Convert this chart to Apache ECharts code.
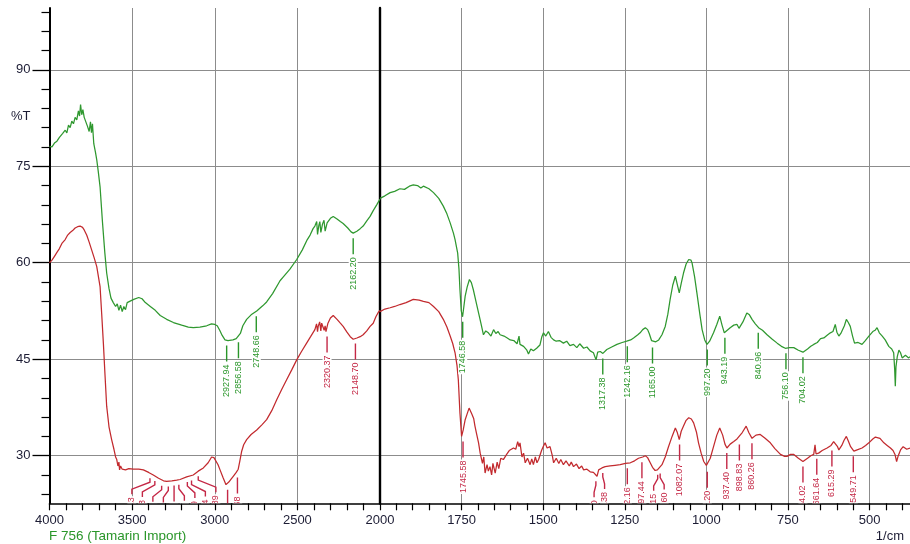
<!DOCTYPE html>
<html><head><meta charset="utf-8">
<script src="https://cdn.jsdelivr.net/npm/echarts@6/dist/echarts.min.js"></script>
<style>html,body{margin:0;padding:0;background:#fff}#c{width:910px;height:544px}</style>
</head><body><div id="c"></div>
<script>
// ---- tick labels ----
const xTicksLeft = [4000, 3500, 3000, 2500, 2000];
const xTicksRight = [1750, 1500, 1250, 1000, 750, 500];
const xMinorRight = [1950, 1900, 1850, 1800, 1700, 1650, 1600, 1550, 1450, 1400, 1350, 1300, 1200, 1150, 1100, 1050, 950, 900, 850, 800, 700, 650, 600, 550, 450, 400];
const yTicks = [30, 45, 60, 75, 90];
const yMinorTicks = [24, 27, 33, 36, 39, 42, 48, 51, 54, 57, 63, 66, 69, 72, 78, 81, 84, 87, 93, 96, 99];

// ---- spectra: [wavenumber 1/cm, %T] ----
const greenLeft = [[4000,78.1],[3985,78.0],[3970,78.6],[3955,78.9],[3940,79.5],[3930,79.2],[3920,80.1],[3905,80.6],[3895,80.2],[3885,81.4],[3875,81.0],[3865,82.0],[3855,81.6],[3845,82.6],[3835,82.2],[3825,83.6],[3818,82.8],[3812,84.6],[3805,83.0],[3798,83.8],[3790,82.6],[3780,82.4],[3770,81.2],[3760,80.4],[3752,81.9],[3746,80.2],[3740,81.6],[3732,78.5],[3722,77.2],[3714,76.0],[3705,74.2],[3694,71.8],[3680,66.5],[3665,61.5],[3654,58.4],[3640,56.0],[3628,54.5],[3614,53.8],[3600,53.2],[3590,53.6],[3580,52.6],[3570,53.4],[3560,52.4],[3550,53.2],[3540,52.7],[3530,53.8],[3515,54.0],[3490,54.3],[3460,54.6],[3440,54.4],[3420,53.8],[3390,53.2],[3360,52.6],[3330,51.8],[3291,51.2],[3250,50.7],[3200,50.3],[3160,50.0],[3130,49.9],[3090,50.0],[3049,50.2],[3020,50.5],[3000,50.4],[2985,50.2],[2970,49.5],[2955,48.7],[2938,48.0],[2920,47.9],[2890,48.0],[2870,48.2],[2858,48.4],[2845,49.0],[2830,50.2],[2807,51.2],[2780,51.9],[2746,52.5],[2710,53.3],[2686,53.9],[2650,55.2],[2605,57.2],[2585,57.8],[2545,59.0],[2504,60.5],[2470,62.0],[2440,63.6],[2423,64.3],[2405,65.3],[2394,65.7],[2383,66.4],[2378,64.4],[2370,65.8],[2364,66.4],[2358,64.7],[2348,66.0],[2339,66.6],[2332,64.9],[2320,66.2],[2300,66.9],[2283,67.2],[2260,66.8],[2240,66.4],[2223,66.1],[2195,65.4],[2175,64.8],[2162,64.6],[2140,64.9],[2120,65.3],[2102,65.7],[2080,66.5],[2060,67.2],[2041,68.1],[2020,69.0],[2000,69.9]];

const greenRight = [[2000,70.0],[1985,70.4],[1969,70.9],[1955,71.1],[1939,71.5],[1925,71.4],[1910,71.9],[1898,72.1],[1885,72.0],[1875,71.6],[1867,71.9],[1850,71.5],[1836,70.9],[1820,70.0],[1806,68.8],[1795,67.6],[1785,66.2],[1775,64.6],[1770,63.6],[1762,61.5],[1758,59.0],[1755,55.8],[1751,52.5],[1747,51.6],[1743,53.2],[1739,54.8],[1733,56.2],[1726,57.4],[1720,56.9],[1714,55.8],[1706,54.0],[1698,52.2],[1690,50.4],[1683,48.8],[1676,49.4],[1668,49.1],[1660,48.6],[1652,49.6],[1645,49.0],[1638,49.3],[1632,48.8],[1620,48.6],[1610,48.3],[1601,48.0],[1590,47.9],[1580,47.4],[1574,48.6],[1571,47.3],[1560,47.0],[1550,46.4],[1545,45.8],[1538,46.6],[1530,46.3],[1520,46.7],[1510,47.2],[1504,48.5],[1499,49.1],[1492,48.6],[1484,49.3],[1476,48.4],[1468,48.0],[1460,47.8],[1450,47.9],[1438,47.5],[1428,47.8],[1418,47.1],[1407,47.3],[1397,46.8],[1388,47.4],[1376,46.7],[1366,46.9],[1356,46.3],[1346,46.0],[1341,46.3],[1338,44.9],[1333,46.1],[1325,46.2],[1317,45.9],[1305,46.5],[1290,46.9],[1274,47.3],[1258,47.6],[1244,47.8],[1232,48.0],[1223,48.3],[1210,48.8],[1203,49.1],[1195,49.6],[1187,49.9],[1180,49.6],[1175,49.0],[1168,47.9],[1164,47.6],[1155,47.7],[1146,48.0],[1136,48.8],[1126,50.1],[1118,52.0],[1111,54.3],[1103,56.5],[1095,57.9],[1089,56.6],[1083,55.3],[1077,56.8],[1070,58.4],[1062,59.8],[1054,60.5],[1047,60.4],[1044,60.0],[1036,57.8],[1029,55.3],[1020,52.0],[1013,49.6],[1005,48.0],[998,47.3],[990,47.8],[978,49.1],[968,50.4],[959,51.7],[952,50.3],[945,49.1],[936,49.5],[927,49.9],[916,50.3],[906,50.4],[900,49.8],[896,49.6],[888,50.8],[876,52.2],[868,51.9],[860,51.2],[850,50.5],[840,49.9],[828,49.5],[814,48.8],[798,48.1],[783,47.5],[770,47.0],[758,46.7],[745,46.8],[732,46.8],[718,46.4],[704,46.1],[690,46.6],[680,47.0],[671,47.3],[660,47.6],[650,48.2],[640,48.3],[635,48.6],[628,48.8],[620,49.1],[612,49.3],[605,50.4],[600,49.2],[594,48.6],[588,49.0],[584,49.1],[577,50.2],[571,51.2],[565,50.7],[559,50.1],[552,48.6],[546,47.5],[535,47.6],[523,47.3],[513,47.9],[502,48.6],[490,49.3],[483,49.5],[477,49.9],[470,49.1],[461,48.6],[452,48.0],[441,47.0],[432,46.6],[426,46.0],[423,43.5],[421,40.8],[419,43.8],[415,45.4],[410,46.4],[405,46.0],[400,45.2],[397,44.9],[390,45.6],[380,45.2],[376,45.4]];

const redLeft = [[4000,60.0],[3985,60.4],[3970,61.0],[3955,61.6],[3940,62.2],[3925,63.0],[3916,63.3],[3905,63.6],[3890,64.3],[3875,64.7],[3860,65.0],[3845,65.4],[3830,65.6],[3815,65.7],[3800,65.5],[3790,65.1],[3775,64.3],[3760,63.2],[3745,62.0],[3730,60.8],[3714,59.4],[3705,58.0],[3694,56.3],[3684,52.0],[3674,47.5],[3664,42.5],[3654,37.7],[3640,34.5],[3624,32.5],[3610,31.0],[3600,29.8],[3593,29.4],[3586,28.4],[3580,29.0],[3576,27.8],[3570,28.4],[3560,27.9],[3553,28.1],[3540,27.8],[3520,28.0],[3493,27.9],[3460,27.9],[3432,27.8],[3400,27.4],[3372,27.0],[3340,26.5],[3310,26.1],[3291,26.0],[3260,26.1],[3230,26.2],[3210,26.3],[3170,26.7],[3130,27.0],[3100,27.6],[3069,28.1],[3040,28.9],[3019,29.8],[3005,29.7],[2995,29.5],[2980,28.6],[2968,27.8],[2950,26.6],[2932,25.5],[2915,25.9],[2900,26.4],[2888,26.8],[2870,27.4],[2858,27.9],[2848,29.2],[2837,30.7],[2825,31.7],[2807,32.5],[2780,33.3],[2746,34.0],[2715,34.8],[2686,35.6],[2655,37.0],[2625,38.7],[2595,40.3],[2565,41.8],[2535,43.3],[2504,44.9],[2475,46.2],[2444,47.5],[2420,48.5],[2394,49.6],[2384,50.5],[2378,49.3],[2374,50.1],[2365,50.8],[2358,49.4],[2353,50.6],[2344,50.4],[2338,49.5],[2332,50.2],[2327,49.3],[2315,50.6],[2300,51.4],[2283,51.8],[2260,51.2],[2240,50.6],[2223,50.1],[2200,49.2],[2180,48.5],[2162,48.1],[2140,48.3],[2120,48.5],[2102,48.8],[2080,49.4],[2060,50.1],[2041,50.6],[2025,51.6],[2010,52.3],[2000,52.6]];

const redRight = [[2000,52.4],[1985,52.8],[1969,53.0],[1955,53.2],[1939,53.5],[1920,53.8],[1898,54.3],[1880,54.2],[1867,54.0],[1850,53.8],[1836,53.2],[1820,52.4],[1806,51.2],[1795,50.0],[1785,48.6],[1777,47.4],[1770,46.0],[1764,44.0],[1760,41.8],[1755,36.6],[1750,33.0],[1745,34.0],[1739,35.6],[1733,36.5],[1727,37.4],[1722,37.7],[1718,36.4],[1713,35.8],[1709,34.6],[1704,33.4],[1698,32.0],[1693,30.4],[1686,28.8],[1682,29.8],[1678,27.3],[1672,28.6],[1668,27.6],[1663,28.3],[1658,27.0],[1654,28.8],[1647,27.3],[1641,29.0],[1636,28.0],[1630,29.6],[1622,29.4],[1612,30.2],[1604,30.8],[1598,30.6],[1591,31.2],[1584,31.0],[1578,32.2],[1574,31.4],[1571,32.0],[1565,29.8],[1560,30.4],[1555,28.9],[1548,29.6],[1540,28.6],[1535,29.5],[1530,28.6],[1524,29.8],[1519,28.9],[1514,29.4],[1505,30.8],[1499,31.5],[1494,32.0],[1488,31.2],[1479,31.4],[1472,30.0],[1468,28.9],[1460,29.6],[1452,28.8],[1446,29.4],[1438,28.6],[1430,29.2],[1420,28.4],[1414,29.0],[1407,28.3],[1398,28.7],[1390,28.0],[1382,28.4],[1376,27.8],[1366,27.9],[1356,27.5],[1346,27.4],[1340,27.6],[1335,26.8],[1330,27.8],[1320,28.1],[1310,28.3],[1295,28.4],[1280,28.5],[1264,28.6],[1248,28.8],[1233,28.9],[1220,29.2],[1208,29.6],[1195,29.8],[1187,30.0],[1180,29.7],[1172,28.9],[1165,28.2],[1157,27.7],[1150,27.8],[1144,28.0],[1136,28.6],[1126,29.8],[1116,31.4],[1105,33.0],[1095,34.3],[1089,33.6],[1083,32.5],[1077,33.8],[1070,34.6],[1062,35.5],[1054,35.9],[1046,35.7],[1039,35.1],[1030,33.6],[1024,32.0],[1016,30.4],[1008,29.1],[1000,28.5],[996,28.3],[988,29.6],[978,31.4],[968,33.2],[959,34.3],[950,33.2],[943,31.8],[937,31.2],[927,31.8],[916,32.2],[906,32.6],[901,32.5],[890,33.6],[878,34.6],[870,33.6],[860,32.7],[848,33.2],[835,33.3],[820,32.7],[804,32.0],[790,31.1],[773,30.2],[760,29.9],[753,29.9],[742,30.2],[732,30.2],[718,29.6],[704,29.1],[690,29.6],[680,30.0],[671,30.2],[667,31.7],[664,30.3],[656,30.4],[645,30.8],[630,31.2],[618,31.6],[610,32.2],[605,32.5],[598,31.4],[594,30.9],[585,31.6],[578,32.4],[571,33.0],[565,32.3],[558,31.4],[548,30.7],[538,30.9],[523,31.2],[512,31.6],[502,32.0],[490,32.6],[482,32.9],[477,33.0],[468,32.7],[456,32.0],[446,31.6],[436,31.2],[428,30.8],[422,30.2],[417,29.1],[412,30.0],[405,30.9],[397,31.4],[386,31.0],[376,31.2]];

// ---- peak picks (1/cm) ----
const greenPeaksLeft = [2927.94, 2856.58, 2748.66, 2162.20];
const greenPeaksRight = [1746.58, 1317.38, 1242.16, 1165.00, 997.20, 943.19, 840.96, 756.10, 704.02];
const redPeaksLeft = [3392.13, 3362.53, 3321.30, 3280.93, 3246.16, 3217.21, 3165.79, 3140.54, 3099.89, 2922.30, 2862.68, 2320.37, 2148.70];
const redPeaksRight = [1745.58, 1338.50, 1317.38, 1242.16, 1197.44, 1149.15, 1141.60, 1082.07, 997.20, 937.40, 898.83, 860.26, 704.02, 661.64, 615.29, 549.71];

const GREEN = '#2f982f', RED = '#c22a2e', GREEN_T = '#2a962a', RED_T = '#c42846';
const FONT = '"Liberation Sans", Arial, Helvetica, sans-serif';

function interp(curve, wn) {
  for (let i = 0; i < curve.length - 1; i++) {
    const a = curve[i], b = curve[i + 1];
    if (wn <= a[0] && wn >= b[0]) {
      const t = (a[0] - wn) / (a[0] - b[0] || 1);
      return a[1] + (b[1] - a[1]) * t;
    }
  }
  return curve[curve.length - 1][1];
}
function localMin(curve, wn, w) {
  let m = interp(curve, wn);
  curve.forEach(p => { if (Math.abs(p[0] - wn) <= w && p[1] < m) m = p[1]; });
  return m;
}
function spread(xs, gap) {
  const idx = xs.map((x, i) => i).sort((a, b) => xs[a] - xs[b]);
  const pos = idx.map(i => xs[i]);
  for (let it = 0; it < 600; it++) {
    let moved = false;
    for (let k = 0; k < pos.length - 1; k++) {
      const d = pos[k + 1] - pos[k];
      if (d < gap - 1e-3) { const m = (gap - d) / 2; pos[k] -= m; pos[k + 1] += m; moved = true; }
    }
    if (!moved) break;
  }
  const out = []; idx.forEach((i, k) => { out[i] = pos[k]; }); return out;
}

function lineSeries(data, g, color) {
  return { type: 'line', data: data, xAxisIndex: g, yAxisIndex: g, showSymbol: false, symbol: 'none',
    silent: true, clip: true, z: 2, lineStyle: { color: color, width: 1.25 } };
}
function peakSeries(peaks, curve, g, color, win) {
  const data = peaks.map(wn => [wn, localMin(curve, wn, win)]);
  return {
    type: 'custom', coordinateSystem: 'cartesian2d', xAxisIndex: g, yAxisIndex: g,
    clip: true, silent: true, z: 3, data: data,
    renderItem: function (params, api) {
      const i = params.dataIndex;
      const pts = data.map(d => api.coord(d));
      const lxs = spread(pts.map(p => p[0]), 10.5);
      const px = pts[i][0], cy = pts[i][1], lx = lxs[i];
      const s = cy + 5;
      let line;
      if (Math.abs(lx - px) < 0.8) line = [[px, s], [px, s + 16]];
      else line = [[px, s], [px, s + 4], [lx, s + 11], [lx, s + 16]];
      return { type: 'group', children: [
        { type: 'polyline', shape: { points: line }, style: { stroke: color, lineWidth: 1.4, fill: null } },
        { type: 'text', x: lx, y: s + 18, rotation: Math.PI / 2,
          style: { text: peaks[i].toFixed(2), fill: color, font: '9px ' + FONT,
                   align: 'right', verticalAlign: 'middle', backgroundColor: '#fff', padding: [0, 1] } }
      ] };
    }
  };
}

const chart = echarts.init(document.getElementById('c'), null, { renderer: 'canvas' });
const gridTop = 8, gridH = 495.3;
const yMin = 22.6, yMax = 99.6, xRightMin = 376;
const splitStyle = { show: true, lineStyle: { color: '#8c8c8c', width: 1 } };
const tickLine = { color: '#000', width: 1.2 };
const plainNum = v => String(v);

chart.setOption({
  animation: false,
  backgroundColor: '#fff',
  grid: [
    { left: 49.5, top: gridTop, width: 330.5, height: gridH },
    { left: 380, top: gridTop, width: 530, height: gridH },
    { left: 49.5, top: gridTop, width: 330.5, height: gridH },
    { left: 380, top: gridTop, width: 530, height: gridH }
  ],
  xAxis: [
    { type: 'value', gridIndex: 0, inverse: true, min: 2000, max: 4000, interval: 500,
      axisLine: { show: true, onZero: false, lineStyle: { color: '#000', width: 1.6 } },
      axisTick: { show: true, length: 7, lineStyle: tickLine },
      minorTick: { show: true, splitNumber: 5, length: 7, lineStyle: tickLine },
      axisLabel: { show: true, margin: 11, fontSize: 13, color: '#1c1c34', fontFamily: FONT,
        formatter: v => xTicksLeft.includes(v) ? String(v) : '' },
      splitLine: splitStyle },
    { type: 'value', gridIndex: 1, inverse: true, min: xRightMin, max: 2000,
      axisLine: { show: true, onZero: false, lineStyle: { color: '#000', width: 1.6 } },
      axisTick: { show: true, length: 7, customValues: xTicksRight, lineStyle: tickLine },
      axisLabel: { show: true, customValues: xTicksRight, formatter: plainNum, margin: 11, fontSize: 13, color: '#1c1c34', fontFamily: FONT },
      splitLine: splitStyle },
    { type: 'value', gridIndex: 2, show: false, min: 2000, max: 4000 },
    { type: 'value', gridIndex: 3, inverse: true, min: xRightMin, max: 2000,
      axisLine: { show: false },
      axisTick: { show: true, length: 7, customValues: xMinorRight, lineStyle: tickLine },
      axisLabel: { show: false },
      splitLine: { show: false } }
  ],
  yAxis: [
    { type: 'value', gridIndex: 0, min: yMin, max: yMax,
      axisLine: { show: true, onZero: false, lineStyle: { color: '#000', width: 2 } },
      axisTick: { show: true, length: 17, customValues: yTicks, lineStyle: { color: '#000', width: 1.3 } },
      axisLabel: { show: true, customValues: yTicks, formatter: plainNum, margin: 19, fontSize: 13, color: '#1c1c34', fontFamily: FONT },
      splitLine: splitStyle },
    { type: 'value', gridIndex: 1, min: yMin, max: yMax,
      axisLine: { show: true, onZero: false, lineStyle: { color: '#000', width: 2.4 } },
      axisTick: { show: false, customValues: yTicks },
      axisLabel: { show: false, customValues: yTicks },
      splitLine: splitStyle },
    { type: 'value', gridIndex: 2, min: yMin, max: yMax,
      axisLine: { show: false },
      axisTick: { show: true, length: 8, customValues: yMinorTicks, lineStyle: tickLine },
      axisLabel: { show: false },
      splitLine: { show: false } },
    { type: 'value', gridIndex: 3, show: false, min: yMin, max: yMax }
  ],
  graphic: [
    { type: 'text', left: 11, top: 110, style: { text: '%T', font: '13px ' + FONT, fill: '#1c1c34' } },
    { type: 'text', left: 49, top: 529, style: { text: 'F 756 (Tamarin Import)', font: '13.5px ' + FONT, fill: GREEN_T } },
    { type: 'text', right: 6, top: 530, style: { text: '1/cm', font: '13px ' + FONT, fill: '#1c1c34' } }
  ],
  series: [
    lineSeries(greenLeft, 0, GREEN),
    lineSeries(redLeft, 0, RED),
    lineSeries(greenRight, 1, GREEN),
    lineSeries(redRight, 1, RED),
    peakSeries(greenPeaksLeft, greenLeft, 0, GREEN_T, 12),
    peakSeries(redPeaksLeft, redLeft, 0, RED_T, 12),
    peakSeries(greenPeaksRight, greenRight, 1, GREEN_T, 5),
    peakSeries(redPeaksRight, redRight, 1, RED_T, 5)
  ]
});
</script>
</body></html>
